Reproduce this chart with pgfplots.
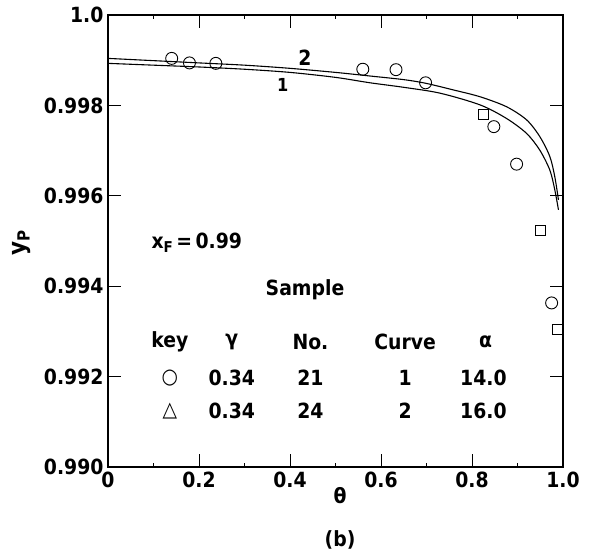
\documentclass[border=0pt]{standalone}
\usepackage{pgfplots}
\pgfplotsset{compat=1.18}
\usepackage{fontspec}
\setmainfont{DejaVu Sans Condensed}[UprightFont=* Bold]

\pgfplotstableread{
t y
0.000 0.99904
0.100 0.99899
0.200 0.99894
0.300 0.99889
0.400 0.99882
0.500 0.99873
0.576 0.99865
0.650 0.99857
0.698 0.99849
0.760 0.99834
0.818 0.99819
0.876 0.99797
0.920 0.99768
0.949 0.99731
0.971 0.99687
0.982 0.99642
0.990 0.99591
}\curvetwo

\pgfplotstableread{
t y
0.000 0.99893
0.100 0.99889
0.200 0.99885
0.300 0.99880
0.400 0.99873
0.500 0.99862
0.576 0.99850
0.650 0.99840
0.730 0.99827
0.818 0.99801
0.876 0.99771
0.920 0.99738
0.949 0.99701
0.971 0.99657
0.982 0.99613
0.990 0.99569
}\curveone

\begin{document}
\begin{tikzpicture}
\begin{axis}[
    scale only axis,
    width=455bp, height=452bp,
    at={(0,0)}, anchor=south west,
    xmin=0, xmax=1, ymin=0.990, ymax=1.0,
    xtick={0,0.2,0.4,0.6,0.8,1.0},
    xticklabels={0,0.2,0.4,0.6,0.8,1.0},
    ytick={0.990,0.992,0.994,0.996,0.998,1.0},
    yticklabels={0.990,0.992,0.994,0.996,0.998,1.0},
    minor x tick num=1,
    tick align=inside,
    major tick length=13bp,
    minor tick length=4bp,
    tick style={line width=0.8pt, black},
    axis line style={line width=1.8pt},
    ticklabel style={font=\fontsize{21}{24}\selectfont},
    xticklabel style={yshift=-1bp},
    yticklabel style={xshift=-1bp},
    clip=false,
]
\addplot[black, line width=1.1pt, smooth] table[x=t, y=y] {\curvetwo};
\addplot[black, line width=1.1pt, smooth] table[x=t, y=y] {\curveone};

% circles
\addplot[only marks, mark=o, mark size=6bp, mark options={line width=0.9pt, fill=white}] coordinates {
(0.140,0.99904) (0.179,0.99894) (0.237,0.99893)
(0.560,0.99880) (0.633,0.99879) (0.698,0.99850)
(0.848,0.99753) (0.898,0.99670) (0.975,0.99363)
};
% squares
\addplot[only marks, mark=square, mark size=5bp, mark options={line width=0.9pt}] coordinates {
(0.826,0.99781) (0.951,0.99524) (0.988,0.99305)
};

\begin{scope}[every node/.style={font=\fontsize{21}{24}\selectfont}]
\node at (axis cs:0.433,0.99906) {2};
\node at (axis cs:0.384,0.99845) {\fontsize{18}{20}\selectfont 1};
\node[anchor=west] at (axis cs:0.088,0.99496) {x\raisebox{-0.3ex}{\fontsize{15}{17}\selectfont F}\,=\,0.99};

\node at (axis cs:0.433,0.99392) {Sample};
\node at (axis cs:0.136,0.99277) {key};
\node at (axis cs:0.272,0.99277) {γ};
\node at (axis cs:0.445,0.99277) {No.};
\node at (axis cs:0.653,0.99277) {Curve};
\node at (axis cs:0.830,0.99277) {α};

\node at (axis cs:0.136,0.99197) {○};
\node at (axis cs:0.272,0.99197) {0.34};
\node at (axis cs:0.445,0.99197) {21};
\node at (axis cs:0.653,0.99197) {1};
\node at (axis cs:0.825,0.99197) {14.0};

\node at (axis cs:0.136,0.99124) {△};
\node at (axis cs:0.272,0.99124) {0.34};
\node at (axis cs:0.445,0.99124) {24};
\node at (axis cs:0.653,0.99124) {2};
\node at (axis cs:0.825,0.99124) {16.0};

\node[rotate=90] at (rel axis cs:-0.189,0.496) {\fontsize{24}{26}\selectfont y\textsubscript{P}};
\node at (rel axis cs:0.51,-0.064) {θ};
\node at (rel axis cs:0.51,-0.162) {(b)};
\end{scope}
\end{axis}
\pgfresetboundingbox
\path[use as bounding box] (-108bp,-89bp) rectangle (484bp,467bp);
\end{tikzpicture}
\end{document}
